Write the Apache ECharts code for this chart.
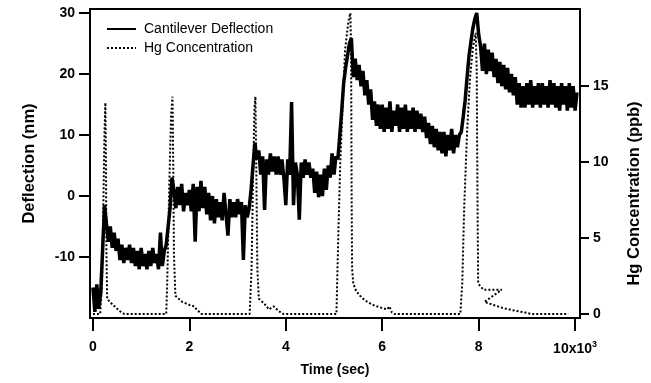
<!DOCTYPE html>
<html><head><meta charset="utf-8">
<script src="https://cdn.jsdelivr.net/npm/echarts@6/dist/echarts.min.js"></script>
<style>html,body{margin:0;padding:0;background:#fff}#c{width:651px;height:383px}</style>
</head><body><div id="c"></div>
<script>
// Cantilever deflection (nm), sampled every 40 s starting at t = 0 s (rows of 10 = 400 s)
const defStart = 0;
const defStep = 40;
const deflection = [
  -15, -19, -14.5, -18.5, -16, -9, -1.5, -4.5, -7.5, -5,
  -8.5, -6, -9, -7, -10.5, -8, -11, -8.5, -10.5, -8,
  -11, -8.5, -11.5, -9, -12, -8.5, -11.5, -9.5, -12, -9,
  -11.5, -8.5, -11, -9.5, -12, -6, -11.5, -9, -8, -5,
  -2, 3, 1, -2, 1.5, -1.5, 2, -2.5, 0.5, -1.5,
  1, -2.5, 2, -7.5, 1.5, -2.5, 2.5, -2, 1.5, -3,
  0.5, -4, 0, -4.5, -0.5, -3.5, -1, -4, 0.5, -3,
  -6.5, -0.5, -3.5, -1, -3.5, -0.5, -3, -1, -10.5, -1.5,
  -3.5, -2, 1, 5, 8.7, 6, 7.5, 3.5, 6.5, -2.3,
  6, 3.5, 7, 4, 6.5, 3.5, 6.5, 3.5, 6, 3,
  -1.5, 6, 3.5, 15.4, -1.5, 5.5, 3.5, -3.9, 5.5, 3,
  6, 3.5, 5.5, 3, 4.5, 0.5, 4, -0.2, 3.5, 0,
  4.5, 1, 5, 3, 7, 3.5, 6.5, 6, 10, 14,
  18.5, 21, 23, 25, 25.9, 19.5, 22.5, 19, 21.5, 18,
  20.5, 16.5, 19, 15, 17.5, 12.5, 15.5, 11.5, 15, 11,
  15, 10.5, 14.5, 11, 15.5, 10.5, 14, 11.5, 15, 10.5,
  14.5, 11, 15, 10.5, 14, 11, 14.5, 10.5, 14, 11,
  13.5, 10.5, 13, 9.5, 12, 8.5, 11.5, 8, 11, 7.5,
  10.5, 7, 10.5, 6.5, 10, 7.5, 11, 7, 10, 8,
  10, 10.5, 13, 15.7, 19.5, 23, 25.3, 27.5, 29, 30,
  26.5, 24.5, 20.5, 25, 20, 24, 20.5, 23.5, 19.5, 22.5,
  18.5, 22, 18, 21.5, 17.5, 21, 17, 20, 16.5, 19.5,
  15, 18.5, 14.5, 18, 14.5, 18.5, 15, 19, 14.5, 18,
  15, 18.5, 14.5, 18.5, 15, 18, 14.5, 19, 15, 18.5,
  14.5, 18, 14, 18.5, 15, 18, 14, 18.5, 14.5, 18,
  14, 17
];

// Hg concentration (ppb)
const hgTime = [
  0, 150, 190, 215, 240, 258, 270, 280, 295, 350, 450, 550, 650,
  1520, 1540, 1580, 1620, 1650, 1665, 1680, 1710, 1850, 2000, 2100, 2150, 2250,
  3250, 3290, 3320, 3350, 3370, 3390, 3410, 3440, 3550, 3650, 3750, 3850, 3950,
  5050, 5090, 5130, 5170, 5230, 5300, 5340, 5355, 5365, 5375, 5400, 5460, 5540, 5640, 5800, 5990, 6100, 6150, 6200, 6250,
  7620, 7660, 7700, 7760, 7820, 7880, 7940, 7960, 7975, 7990, 8100, 8300, 8480, 8120, 8300, 8500, 8700, 8960, 9100, 9860
];
const hgValue = [
  0, 0, 2, 7, 12, 13.9, 10, 4, 1, 0.8, 0.5, 0.2, 0,
  0, 2, 8, 13, 14.3, 10, 4, 1.2, 0.8, 0.6, 0.5, 0.3, 0,
  0, 3, 9, 13.5, 14.3, 9, 3, 1, 0.7, 0.3, 0.5, 0.2, 0,
  0, 5.3, 10, 13, 17.4, 19.3, 19.8, 17, 8, 3, 2, 1.5, 1.2, 0.9, 0.6, 0.4, 0.3, 0.5, 0.1, 0,
  0, 2, 7, 12, 15.5, 17.5, 18.5, 16, 8, 2, 1.6, 1.6, 1.6, 0.8, 0.6, 0.4, 0.25, 0.1, 0, 0
];

// Axis ticks / labels
const xTickValues = [0, 2000, 4000, 6000, 8000, 10000];
const xTickLabels = ['0', '2', '4', '6', '8', '{a|10x10}{b|3}'];
const leftTickValues = [-10, 0, 10, 20, 30];
const rightTickValues = [0, 5, 10, 15];

const seriesNames = ['Cantilever Deflection', 'Hg Concentration'];

const FONT = 'Liberation Sans, Arial, sans-serif';
const defData = deflection.map((v, i) => [defStart + i * defStep, v]);
const hgData = hgTime.map((t, i) => [t, hgValue[i]]);

const chart = echarts.init(document.getElementById('c'), null, {renderer: 'canvas'});
const lblStyle = {color: '#000', fontSize: 14, fontWeight: 'bold', fontFamily: FONT};
const nameStyle = {color: '#000', fontSize: 14, fontWeight: 'bold', fontFamily: FONT};
const vNameStyle = {color: '#000', fontSize: 16.5, fontWeight: 'bold', fontFamily: FONT};
chart.setOption({
  animation: false,
  backgroundColor: '#fff',
  grid: {left: 90, right: 62, top: 9, bottom: 65, show: true, borderColor: '#000', borderWidth: 2, backgroundColor: 'transparent'},
  legend: {
    data: seriesNames,
    orient: 'vertical', left: 106, top: 22, padding: 0, itemWidth: 29, itemHeight: 14, itemGap: 5,
    itemStyle: {color: 'rgba(0,0,0,0)', borderColor: 'rgba(0,0,0,0)', borderWidth: 0, opacity: 0},
    textStyle: {color: '#000', fontSize: 14, fontFamily: FONT, padding: [0, 0, 0, 3]}
  },
  xAxis: {
    type: 'value', min: -61, max: 10102,
    axisLine: {show: true, onZero: false, lineStyle: {color: '#000', width: 2}},
    axisTick: {show: true, length: 13, lineStyle: {color: '#000', width: 2}, customValues: xTickValues},
    axisLabel: Object.assign({}, lblStyle, {
      margin: 22, customValues: xTickValues,
      formatter: function (v) { const i = xTickValues.indexOf(Math.round(v)); return i >= 0 ? xTickLabels[i] : ''; },
      rich: {
        a: {fontSize: 14, fontWeight: 'bold', fontFamily: FONT, color: '#000'},
        b: {fontSize: 9, fontWeight: 'bold', fontFamily: FONT, color: '#000', padding: [0, 0, 9, 0]}
      }
    }),
    splitLine: {show: false},
    name: 'Time (sec)', nameLocation: 'middle', nameGap: 45, nameTextStyle: nameStyle
  },
  yAxis: [{
    type: 'value', position: 'left', min: -20, max: 30.66,
    axisLine: {show: true, onZero: false, lineStyle: {color: '#000', width: 2}},
    axisTick: {show: true, length: 11, lineStyle: {color: '#000', width: 2}, customValues: leftTickValues},
    axisLabel: Object.assign({}, lblStyle, {margin: 15, customValues: leftTickValues}),
    splitLine: {show: false},
    name: 'Deflection (nm)', nameLocation: 'middle', nameGap: 52, nameTextStyle: vNameStyle
  }, {
    type: 'value', position: 'right', min: -0.263, max: 20.07,
    axisLine: {show: true, onZero: false, lineStyle: {color: '#000', width: 2}},
    axisTick: {show: true, length: 9, lineStyle: {color: '#000', width: 2}, customValues: rightTickValues},
    axisLabel: Object.assign({}, lblStyle, {margin: 13, customValues: rightTickValues}),
    splitLine: {show: false},
    name: 'Hg Concentration (ppb)', nameLocation: 'middle', nameGap: 46,
    nameTextStyle: Object.assign({}, vNameStyle, {padding: [0, 60, 0, 0]})
  }],
  series: [{
    name: seriesNames[0], type: 'line', yAxisIndex: 0, data: defData,
    symbol: 'none', showSymbol: false, lineStyle: {color: '#000', width: 3.5, type: 'solid', join: 'bevel'},
    itemStyle: {color: '#000'}, z: 3
  }, {
    name: seriesNames[1], type: 'line', yAxisIndex: 1, data: hgData,
    symbol: 'none', showSymbol: false, lineStyle: {color: '#000', width: 2, type: 'dotted'},
    itemStyle: {color: '#000'}, z: 4
  }]
});
</script></body></html>
